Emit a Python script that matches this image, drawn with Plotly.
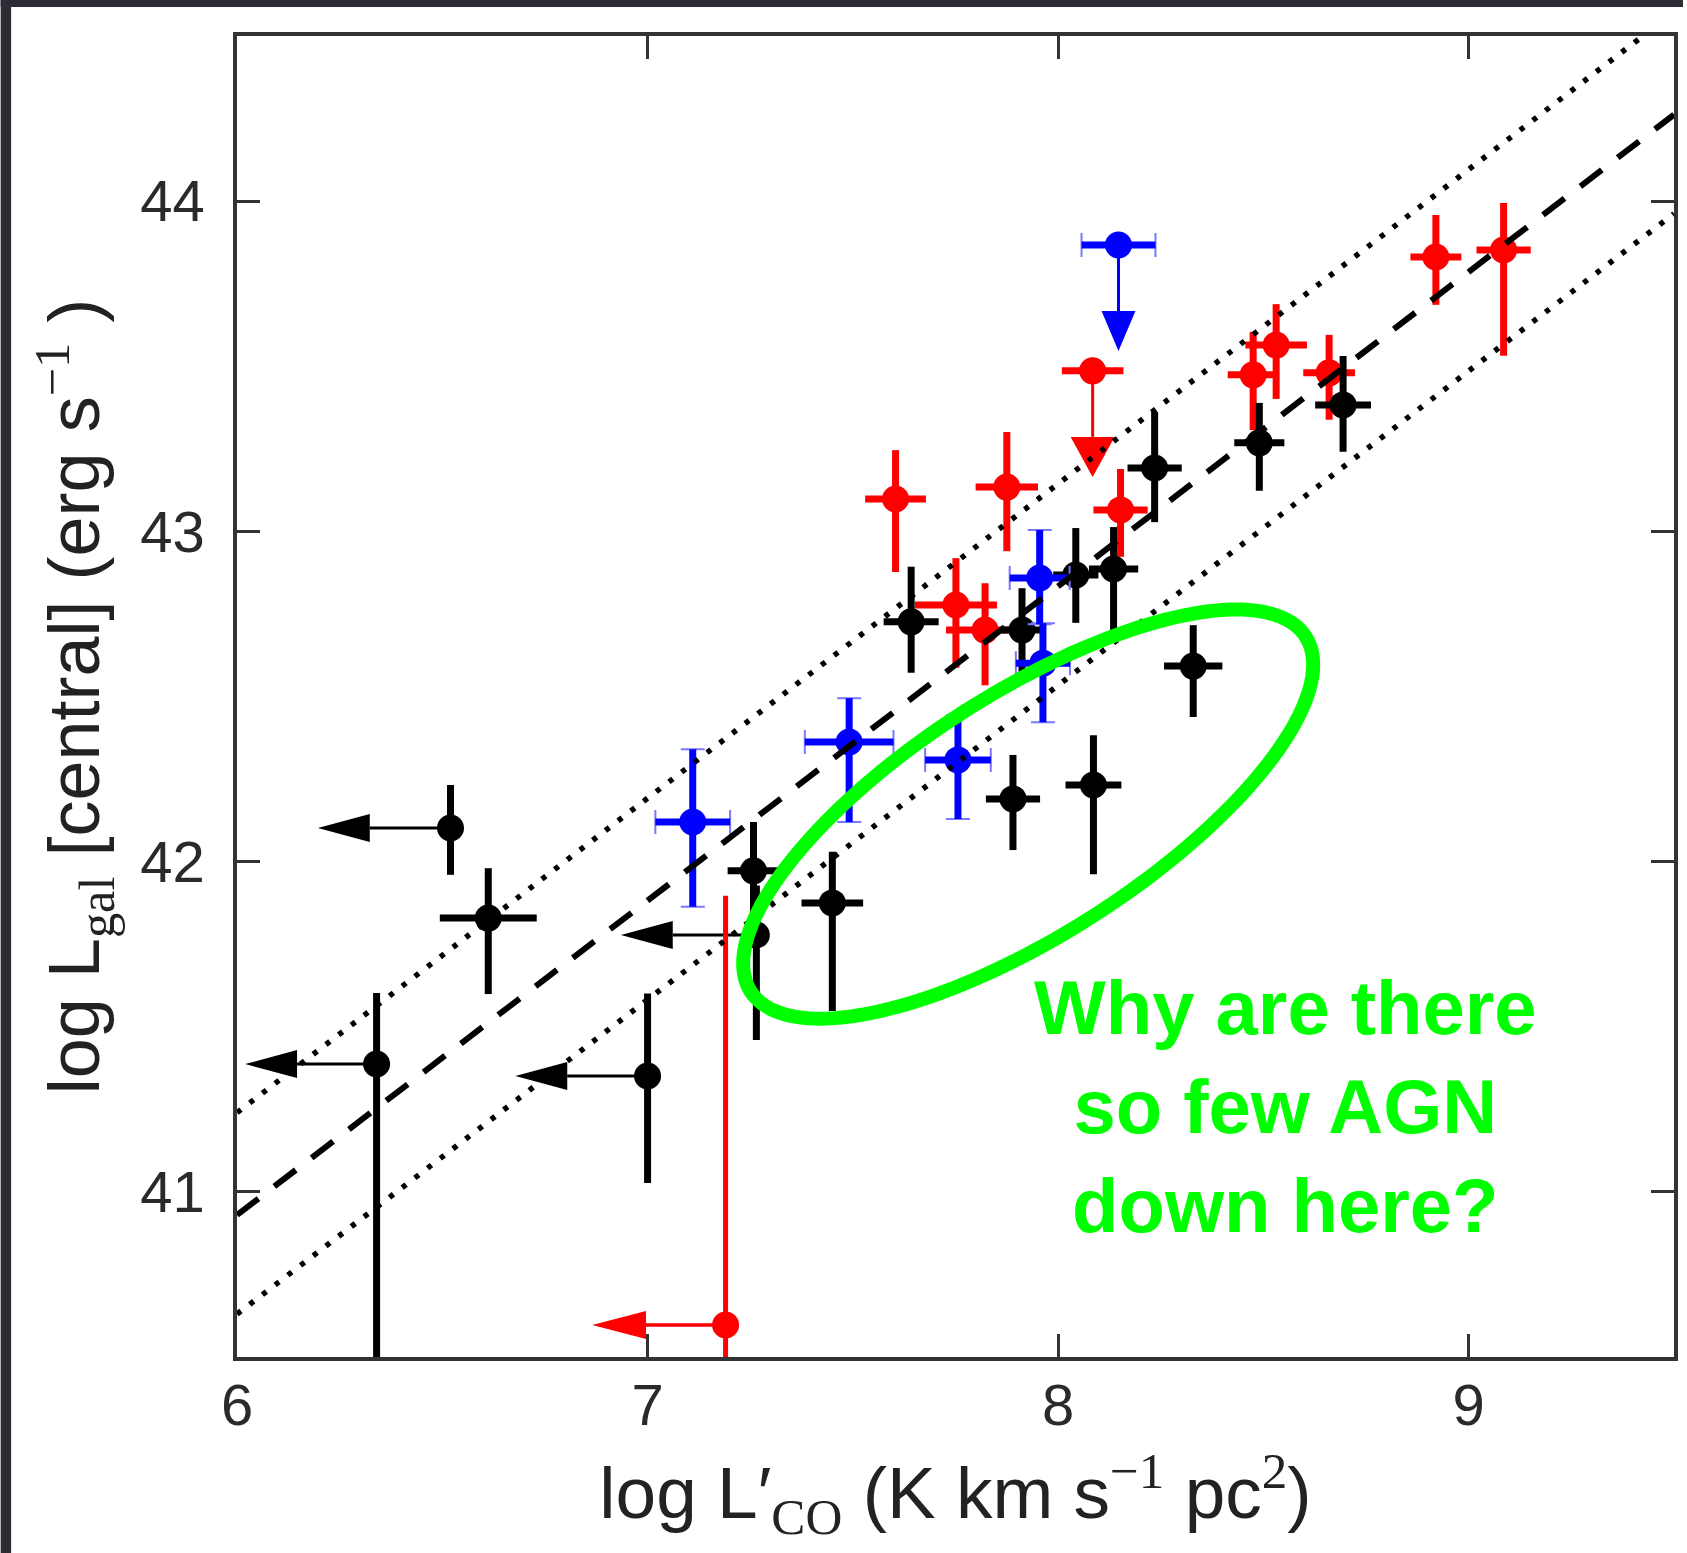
import numpy as np
import plotly.graph_objects as go

# ---------------- data ----------------
# black detections
black_x = [6.612, 7.258, 7.450, 7.642, 7.890, 7.912, 8.043, 8.086, 8.135, 8.235, 8.329, 8.490, 8.694]
black_y = [41.829, 41.972, 41.875, 42.726, 42.190, 42.701, 42.868, 42.232, 42.886, 43.192, 42.592, 43.268, 43.383]
black_xerr = [0.118, 0.063, 0.075, 0.067, 0.066, 0.050, 0.055, 0.068, 0.060, 0.066, 0.071, 0.061, 0.068]
black_yerr_up = [0.151, 0.148, 0.155, 0.167, 0.133, 0.127, 0.142, 0.151, 0.127, 0.170, 0.124, 0.121, 0.148]
black_yerr_dn = [0.230, 0.150, 0.327, 0.154, 0.155, 0.136, 0.145, 0.270, 0.190, 0.164, 0.154, 0.145, 0.142]

# black upper limits in x (arrow to the left)
blim_x = [6.520, 6.340, 7.000, 7.265]
blim_y = [42.102, 41.387, 41.351, 41.778]
blim_tip = [6.197, 6.020, 6.678, 6.935]
blim_yerr_up = [0.130, 0.215, 0.250, 0.150]
blim_yerr_dn = [0.142, 1.000, 0.324, 0.318]

# red detections
red_x = [7.604, 7.751, 7.822, 7.875, 8.152, 8.475, 8.531, 8.660, 8.920, 9.085]
red_y = [43.098, 42.777, 42.701, 43.134, 43.065, 43.474, 43.564, 43.480, 43.831, 43.852]
red_xerr = [0.074, 0.100, 0.095, 0.076, 0.066, 0.062, 0.075, 0.063, 0.062, 0.066]
red_yerr_up = [0.148, 0.142, 0.142, 0.167, 0.124, 0.130, 0.124, 0.115, 0.127, 0.142]
red_yerr_dn = [0.221, 0.190, 0.167, 0.194, 0.142, 0.167, 0.163, 0.142, 0.145, 0.320]

# red upper limit in y (arrow down)
rlimy_x = [8.084]
rlimy_y = [43.486]
rlimy_tip = [43.165]
rlimy_xerr = [0.075]

# red upper limit in x (arrow left)
rlimx_x = [7.190]
rlimx_y = [40.597]
rlimx_tip = [6.865]
rlimx_yerr_up = [1.300]
rlimx_yerr_dn = [0.500]

# blue detections
blue_x = [7.110, 7.491, 7.756, 7.955, 7.963]
blue_y = [42.120, 42.362, 42.308, 42.859, 42.601]
blue_xerr = [0.091, 0.108, 0.080, 0.073, 0.066]
blue_yerr_up = [0.220, 0.133, 0.136, 0.145, 0.121]
blue_yerr_dn = [0.257, 0.242, 0.179, 0.140, 0.179]

# blue upper limit in y (arrow down)
blimy_x = [8.147]
blimy_y = [43.867]
blimy_tip = [43.546]
blimy_xerr = [0.090]

# relations
fit_x = [6.0, 9.5]
fit_y = [40.93, 44.262]
upper_y = [41.24, 44.572]
lower_y = [40.63, 43.962]

x_ticks = [6, 7, 8, 9]
y_ticks = [41, 42, 43, 44]

# ---------------- layout geometry ----------------
W, H = 1687, 1553
ML, MR, MT, MB = 237, 9, 36, 196
X_RANGE = [6.0, 9.5]
Y_RANGE = [40.5, 44.5]
PW = W - ML - MR
PH = H - MT - MB
PX_X = PW / (X_RANGE[1] - X_RANGE[0])
PX_Y = PH / (Y_RANGE[1] - Y_RANGE[0])

BLACK = "#000000"
RED = "#ff0000"
BLUE = "#0000ff"
GREEN = "#00ff00"
MSIZE = 27
ETHICK = 7

fig = go.Figure()


def det_trace(x, y, xe, yu, yd, color):
    return go.Scatter(
        x=x, y=y, mode="markers",
        marker=dict(color=color, size=MSIZE, line=dict(width=0)),
        error_x=dict(type="data", array=xe, symmetric=True, color=color,
                     thickness=ETHICK, width=0),
        error_y=dict(type="data", array=yu, arrayminus=yd, symmetric=False,
                     color=color, thickness=ETHICK, width=0),
        showlegend=False, hoverinfo="x+y",
    )


def left_arrows(px, py, tips, color, lw=3, L=52, hw=14):
    for x0, y0, t in zip(px, py, tips):
        base = t + L / PX_X
        fig.add_trace(go.Scatter(x=[x0, base], y=[y0, y0], mode="lines",
                                 line=dict(color=color, width=lw),
                                 showlegend=False, hoverinfo="skip"))
        fig.add_trace(go.Scatter(
            x=[t, base, base, t], y=[y0, y0 + hw / PX_Y, y0 - hw / PX_Y, y0],
            mode="lines", fill="toself", fillcolor=color,
            line=dict(color=color, width=0), showlegend=False, hoverinfo="skip"))


def down_arrows(px, py, tips, color, lw=3, L=40, hw=17):
    for x0, y0, t in zip(px, py, tips):
        base = t + L / PX_Y
        fig.add_trace(go.Scatter(x=[x0, x0], y=[y0, base], mode="lines",
                                 line=dict(color=color, width=lw),
                                 showlegend=False, hoverinfo="skip"))
        fig.add_trace(go.Scatter(
            x=[x0, x0 - hw / PX_X, x0 + hw / PX_X, x0], y=[t, base, base, t],
            mode="lines", fill="toself", fillcolor=color,
            line=dict(color=color, width=0), showlegend=False, hoverinfo="skip"))


# arrows (limits)
left_arrows(blim_x, blim_y, blim_tip, BLACK)
left_arrows(rlimx_x, rlimx_y, rlimx_tip, RED, lw=3.5, L=54, hw=14)
down_arrows(rlimy_x, rlimy_y, rlimy_tip, RED, lw=3, L=40, hw=22)
down_arrows(blimy_x, blimy_y, blimy_tip, BLUE, lw=3, L=40, hw=17)

# limit points with their error bars
fig.add_trace(go.Scatter(
    x=blim_x, y=blim_y, mode="markers",
    marker=dict(color=BLACK, size=MSIZE),
    error_y=dict(type="data", array=blim_yerr_up, arrayminus=blim_yerr_dn,
                 symmetric=False, color=BLACK, thickness=ETHICK, width=0),
    showlegend=False))
fig.add_trace(go.Scatter(
    x=rlimx_x, y=rlimx_y, mode="markers",
    marker=dict(color=RED, size=MSIZE),
    error_y=dict(type="data", array=rlimx_yerr_up, arrayminus=rlimx_yerr_dn,
                 symmetric=False, color=RED, thickness=5, width=0),
    showlegend=False))
fig.add_trace(go.Scatter(
    x=rlimy_x, y=rlimy_y, mode="markers",
    marker=dict(color=RED, size=MSIZE),
    error_x=dict(type="data", array=rlimy_xerr, color=RED, thickness=ETHICK, width=0),
    showlegend=False))
# blue caps (thin, light) underneath
fig.add_trace(go.Scatter(
    x=blimy_x, y=blimy_y, mode="markers", marker=dict(size=1, opacity=0),
    error_x=dict(type="data", array=blimy_xerr, color="#7777ff", thickness=2, width=12),
    showlegend=False, hoverinfo="skip"))
fig.add_trace(go.Scatter(
    x=blimy_x, y=blimy_y, mode="markers",
    marker=dict(color=BLUE, size=MSIZE),
    error_x=dict(type="data", array=blimy_xerr, color=BLUE, thickness=ETHICK, width=0),
    showlegend=False))

# detections
fig.add_trace(det_trace(red_x, red_y, red_xerr, red_yerr_up, red_yerr_dn, RED))
fig.add_trace(det_trace(black_x, black_y, black_xerr, black_yerr_up, black_yerr_dn, BLACK))
fig.add_trace(go.Scatter(
    x=blue_x, y=blue_y, mode="markers", marker=dict(size=1, opacity=0),
    error_x=dict(type="data", array=blue_xerr, color="#7777ff", thickness=2, width=12),
    error_y=dict(type="data", array=blue_yerr_up, arrayminus=blue_yerr_dn,
                 symmetric=False, color="#7777ff", thickness=2, width=12),
    showlegend=False, hoverinfo="skip"))
fig.add_trace(det_trace(blue_x, blue_y, blue_xerr, blue_yerr_up, blue_yerr_dn, BLUE))

# relations on top
fig.add_trace(go.Scatter(x=fit_x, y=upper_y, mode="lines",
                         line=dict(color=BLACK, width=5.5, dash="5px,11px"),
                         showlegend=False, hoverinfo="skip"))
fig.add_trace(go.Scatter(x=fit_x, y=lower_y, mode="lines",
                         line=dict(color=BLACK, width=5.5, dash="5px,11px"),
                         showlegend=False, hoverinfo="skip"))
fig.add_trace(go.Scatter(x=fit_x, y=fit_y, mode="lines",
                         line=dict(color=BLACK, width=6, dash="27px,20px"),
                         showlegend=False, hoverinfo="skip"))

# green ellipse (annotation)
E_CX, E_CY = 7.927, 42.144      # centre (data units)
E_A, E_B, E_ANG = 330, 121, np.deg2rad(32.5)   # semi-axes (px) and tilt
t = np.linspace(0, 2 * np.pi, 181)
dx = E_A * np.cos(t) * np.cos(E_ANG) - E_B * np.sin(t) * np.sin(E_ANG)
dy = E_A * np.cos(t) * np.sin(E_ANG) + E_B * np.sin(t) * np.cos(E_ANG)
ex = E_CX + dx / PX_X
ey = E_CY + dy / PX_Y
path = "M " + " L ".join(f"{a:.5f},{b:.5f}" for a, b in zip(ex, ey)) + " Z"
fig.add_shape(type="path", path=path, xref="x", yref="y",
              line=dict(color=GREEN, width=14), layer="above")

fig.add_annotation(x=8.553, y=41.26, xref="x", yref="y",
                   text="Why are there<br>so few AGN<br>down here?",
                   showarrow=False, align="center", xanchor="center", yanchor="middle",
                   font=dict(family="Liberation Sans", size=76, color=GREEN, weight="bold"))

# dark frame strips of the slide (left and top)
DARK = "#2c2c35"
fig.add_shape(type="rect", xref="paper", yref="paper",
              x0=(0 - ML) / PW, x1=(10.5 - ML) / PW,
              y0=(PH + MT - H) / PH, y1=(PH + MT) / PH,
              fillcolor=DARK, line=dict(width=0), layer="above")
fig.add_shape(type="rect", xref="paper", yref="paper",
              x0=(0 - ML) / PW, x1=(W - ML) / PW,
              y0=(PH + MT - 7) / PH, y1=(PH + MT) / PH,
              fillcolor=DARK, line=dict(width=0), layer="above")

serif = "font-family:'Liberation Serif',serif"
xtitle = (f"log L′<sub><span style=\"{serif}\">CO</span></sub> (K km s"
          f"<sup><span style=\"{serif}\">−1</span></sup> pc"
          f"<sup><span style=\"{serif}\">2</span></sup>)")
ytitle = (f"log L<sub><span style=\"{serif}\">gal</span></sub> [central] (erg s"
          f"<sup><span style=\"{serif}\">−1</span></sup> )")

axis_common = dict(
    showline=True, linewidth=3.5, linecolor="#333333", mirror="ticks",
    ticks="inside", ticklen=23, tickwidth=3, tickcolor="#333333",
    showgrid=False, zeroline=False,
    tickfont=dict(family="Liberation Sans", size=58, color="#2a2a2a"),
)

fig.update_layout(
    width=W, height=H,
    margin=dict(l=ML, r=MR, t=MT, b=MB, pad=0),
    paper_bgcolor="white", plot_bgcolor="white",
    showlegend=False,
    xaxis=dict(range=X_RANGE, tickvals=x_ticks, ticktext=[str(v) for v in x_ticks],
               ticklabelstandoff=-5,
               title=dict(text=xtitle, standoff=32,
                          font=dict(family="Liberation Sans", size=73, color="#222222")),
               **axis_common),
    yaxis=dict(range=Y_RANGE, tickvals=y_ticks, ticktext=[str(v) for v in y_ticks],
               ticklabelstandoff=17,
               title=dict(text=ytitle, standoff=18,
                          font=dict(family="Liberation Sans", size=72, color="#222222")),
               **axis_common),
)

fig.write_html("out.html")
